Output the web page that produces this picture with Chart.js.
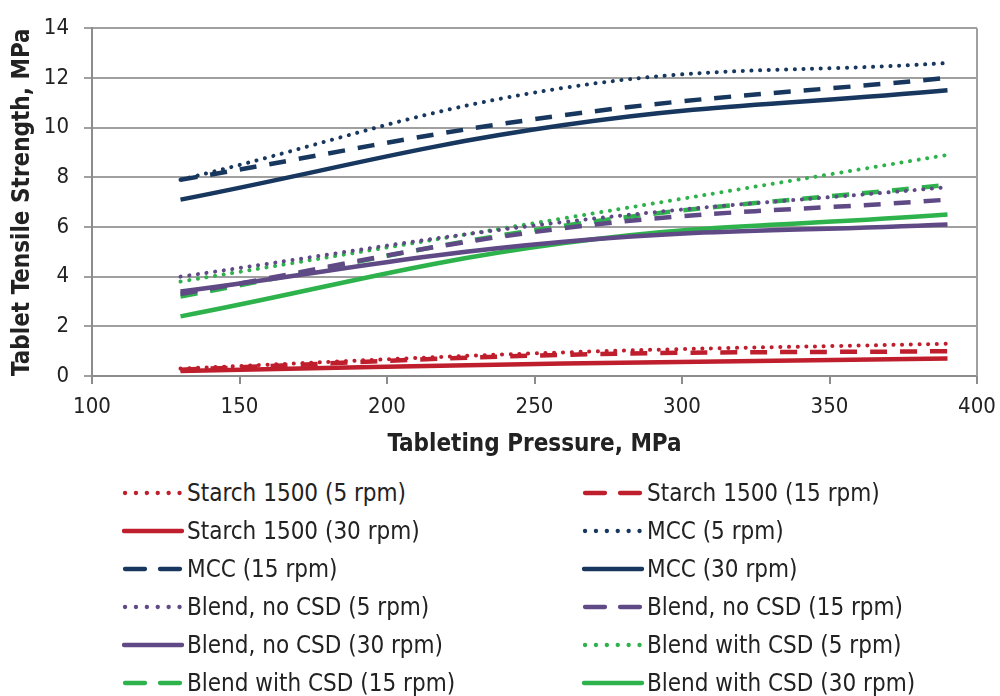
<!DOCTYPE html>
<html>
<head>
<meta charset="utf-8">
<script src="https://cdn.jsdelivr.net/npm/chart.js@4"></script>
<style>
  body { margin: 0; background: #fff; font-family: "DejaVu Sans Condensed", "DejaVu Sans", sans-serif; }
  #wrap { position: relative; width: 1000px; height: 470px; }
  #legend { position: absolute; left: 122px; top: 474px; width: 878px;
            display: grid; grid-template-columns: 460px 400px; grid-auto-rows: 38px; }
  .item { display: flex; align-items: center; font-size: 24px; color: #222; white-space: nowrap; }
  .item canvas { margin-right: 3px; }
</style>
</head>
<body>
<div id="wrap"><canvas id="chart"></canvas></div>
<div id="legend"></div>
<script>
// Valori
const pressures = [130, 260, 390];
const labels = [
  "Starch 1500 (5 rpm)", "Starch 1500 (15 rpm)", "Starch 1500 (30 rpm)",
  "MCC (5 rpm)", "MCC (15 rpm)", "MCC (30 rpm)",
  "Blend, no CSD (5 rpm)", "Blend, no CSD (15 rpm)", "Blend, no CSD (30 rpm)",
  "Blend with CSD (5 rpm)", "Blend with CSD (15 rpm)", "Blend with CSD (30 rpm)"
];
const starch5 = [0.3, 0.95, 1.3];
const starch15 = [0.25, 0.85, 1.0];
const starch30 = [0.2, 0.5, 0.7];
const mcc5 = [7.9, 11.6, 12.6];
const mcc15 = [7.9, 10.5, 12.0];
const mcc30 = [7.1, 10.1, 11.5];
const blend5 = [4.0, 6.2, 7.6];
const blend15 = [3.3, 5.95, 7.1];
const blend30 = [3.4, 5.4, 6.1];
const csd5 = [3.8, 6.35, 8.9];
const csd15 = [3.2, 6.05, 7.7];
const csd30 = [2.4, 5.35, 6.5];
const yTicks = [0, 2, 4, 6, 8, 10, 12, 14];
const xTicks = [100, 150, 200, 250, 300, 350, 400];

const series = [starch5, starch15, starch30, mcc5, mcc15, mcc30, blend5, blend15, blend30, csd5, csd15, csd30];
const colors = ["#BF1E2D", "#17375E", "#5F4A86", "#2DB24C"];
const styles = ["dot", "dash", "solid"];
const FONT = "DejaVu Sans Condensed";

function dashFor(s) {
  if (s === "dot") return [0.1, 8.6];
  if (s === "dash") return [17, 13];
  return [];
}

const datasets = series.map((vals, i) => {
  const s = styles[i % 3];
  return {
    label: labels[i],
    data: vals.map((v, j) => ({ x: pressures[j], y: v })),
    borderColor: colors[Math.floor(i / 3)],
    borderWidth: s === "dot" ? 4 : 4.5,
    borderDash: dashFor(s),
    borderCapStyle: s === "dot" ? "round" : "butt",
    pointRadius: 0,
    tension: 0.4,
    fill: false,
  };
});

// bordo destro dell'area del grafico
const rightBorder = {
  id: "rightBorder",
  afterDraw(chart) {
    const a = chart.chartArea, c = chart.ctx;
    c.save();
    c.strokeStyle = "#A0A0A0";
    c.lineWidth = 2;
    c.beginPath();
    c.moveTo(a.right, a.top);
    c.lineTo(a.right, a.bottom);
    c.stroke();
    c.restore();
  },
};

const config = {
  type: "line",
  data: { datasets: datasets },
  options: {
    responsive: true,
    maintainAspectRatio: false,
    animation: false,
    layout: { padding: { top: 26, right: 23, left: 0, bottom: 0 } },
    plugins: { legend: { display: false }, tooltip: { enabled: false } },
    scales: {
      x: {
        type: "linear",
        min: 100, max: 400,
        afterBuildTicks: (sc) => { sc.ticks = xTicks.map(v => ({ value: v })); },
        afterFit: (sc) => { sc.height = 94; sc.paddingRight = 0; sc.paddingLeft = 0; },
        grid: { drawOnChartArea: false, drawTicks: true, tickLength: 8, color: "#8C8C8C", lineWidth: 2 },
        border: { color: "#8C8C8C", width: 2 },
        ticks: { color: "#222", padding: 10, font: { family: FONT, size: 22 } },
        title: { display: true, text: "Tableting Pressure, MPa", color: "#222",
                 font: { family: FONT, size: 24, weight: "bold" }, padding: { top: 4, bottom: 11 } },
      },
      y: {
        min: 0, max: 14,
        afterBuildTicks: (sc) => { sc.ticks = yTicks.map(v => ({ value: v })); },
        afterFit: (sc) => { sc.width = 92; },
        grid: { color: "#A0A0A0", lineWidth: 2, tickLength: 8 },
        border: { color: "#8C8C8C", width: 2 },
        ticks: { color: "#222", padding: 15, font: { family: FONT, size: 22 } },
        title: { display: true, text: "Tablet Tensile Strength, MPa", color: "#222",
                 font: { family: FONT, size: 24, weight: "bold" }, padding: { top: 8, bottom: 4 } },
      },
    },
  },
  plugins: [rightBorder],
};

const ctx = document.getElementById("chart").getContext("2d");
const chart = new Chart(ctx, config);

// Legenda a due colonne
const legend = document.getElementById("legend");
datasets.forEach((ds, i) => {
  const item = document.createElement("div");
  item.className = "item";
  const key = document.createElement("canvas");
  key.width = 62; key.height = 20;
  const k = key.getContext("2d");
  k.strokeStyle = ds.borderColor;
  k.lineWidth = 4.3;
  const s = styles[i % 3];
  if (s === "dot") { k.setLineDash([0.1, 10.8]); k.lineCap = "round"; k.beginPath(); k.moveTo(3, 10); k.lineTo(60, 10); k.stroke(); }
  else if (s === "dash") { k.setLineDash([20, 15]); k.lineCap = "round"; k.beginPath(); k.moveTo(3, 10); k.lineTo(60, 10); k.stroke(); }
  else { k.lineCap = "round"; k.beginPath(); k.moveTo(2, 10); k.lineTo(60, 10); k.stroke(); }
  const txt = document.createElement("span");
  txt.textContent = ds.label;
  item.appendChild(key);
  item.appendChild(txt);
  legend.appendChild(item);
});
</script>
</body>
</html>
